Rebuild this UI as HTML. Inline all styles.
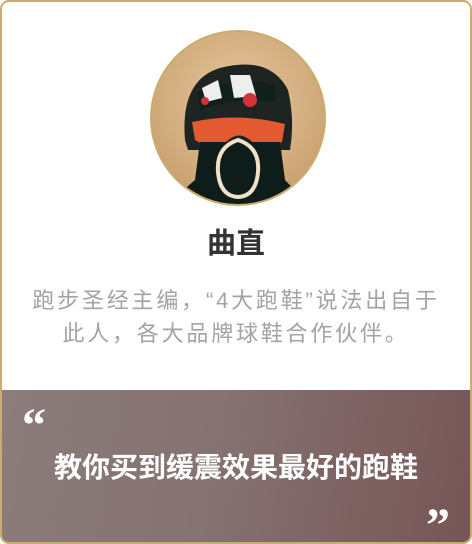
<!DOCTYPE html>
<html><head><meta charset="utf-8"><style>
html,body{margin:0;padding:0;width:472px;height:542px;overflow:hidden;background:#fff;font-family:"Liberation Sans","Noto Sans CJK SC",sans-serif;}
.card{position:absolute;left:0;top:0;width:468px;height:540px;border:2px solid #c8ad6e;border-radius:9px;overflow:hidden;background:#fff;}
.avatar{position:absolute;left:148px;top:28px;width:176px;height:176px;}
.name{position:absolute;left:0;width:468px;top:222px;text-align:center;font-size:29px;font-weight:bold;color:#333;line-height:40px;}
.desc{position:absolute;left:0;width:468px;top:282px;text-align:center;font-size:22px;letter-spacing:2.8px;color:#a3a3a3;line-height:33px;}
.panel{position:absolute;left:0;top:388px;width:468px;height:152px;background:linear-gradient(100deg,#8c7c7c 0%,#857272 45%,#775555 100%);}
.q{position:absolute;color:#fff;font-family:"Liberation Serif",serif;font-weight:bold;font-size:48px;line-height:48px;}
.quote{position:absolute;left:0;width:468px;top:58px;text-align:center;color:#fff;font-size:28px;font-weight:bold;line-height:40px;}
</style></head><body>
<div class="card">
<svg class="avatar" viewBox="0 0 176 176">
<defs><radialGradient id="bg" cx="50%" cy="40%" r="60%"><stop offset="0" stop-color="#e6c9a0"/><stop offset="1" stop-color="#c9a06e"/></radialGradient>
<clipPath id="c"><circle cx="88" cy="88" r="87"/></clipPath></defs>
<g clip-path="url(#c)">
<rect width="176" height="176" fill="url(#bg)"/>
<path d="M35 110 Q30 50 70 38 Q120 25 138 60 Q145 90 140 120 L38 120Z" fill="#1e2422"/>
<path d="M48 62 Q88 45 125 55 L126 72 Q88 66 50 80Z" fill="#12201c"/>
<path d="M52 58 L68 50 L72 68 L56 72Z" fill="#eee"/><path d="M80 45 L100 45 L106 66 L84 68Z" fill="#eee"/>
<circle cx="100" cy="70" r="7" fill="#d2333a"/><circle cx="55" cy="71" r="4" fill="#d2333a"/>
<path d="M42 92 Q88 82 135 94 L132 112 Q115 122 100 110 Q88 100 76 112 Q60 120 45 110Z" fill="#e35a30"/>
<path d="M50 112 L130 112 L135 150 L160 176 L15 176 L45 150Z" fill="#0e1c1a"/>
<path d="M88 110 Q110 117 108 142 Q106 166 88 167 Q70 166 68 142 Q66 117 88 110Z" fill="none" stroke="#efe2c8" stroke-width="4"/>
</g>
<circle cx="88" cy="88" r="87" fill="none" stroke="#c8ad6e" stroke-width="2"/>
</svg>
<div class="name">曲直</div>
<div class="desc">跑步圣经主编，“4大跑鞋”说法出自于<br>此人，各大品牌球鞋合作伙伴。</div>
<div class="panel">
<div class="q" style="left:20px;top:12px;">“</div>
<div class="quote">教你买到缓震效果最好的跑鞋</div>
<div class="q" style="left:424px;top:112px;">”</div>
</div>
</div>
</body></html>
